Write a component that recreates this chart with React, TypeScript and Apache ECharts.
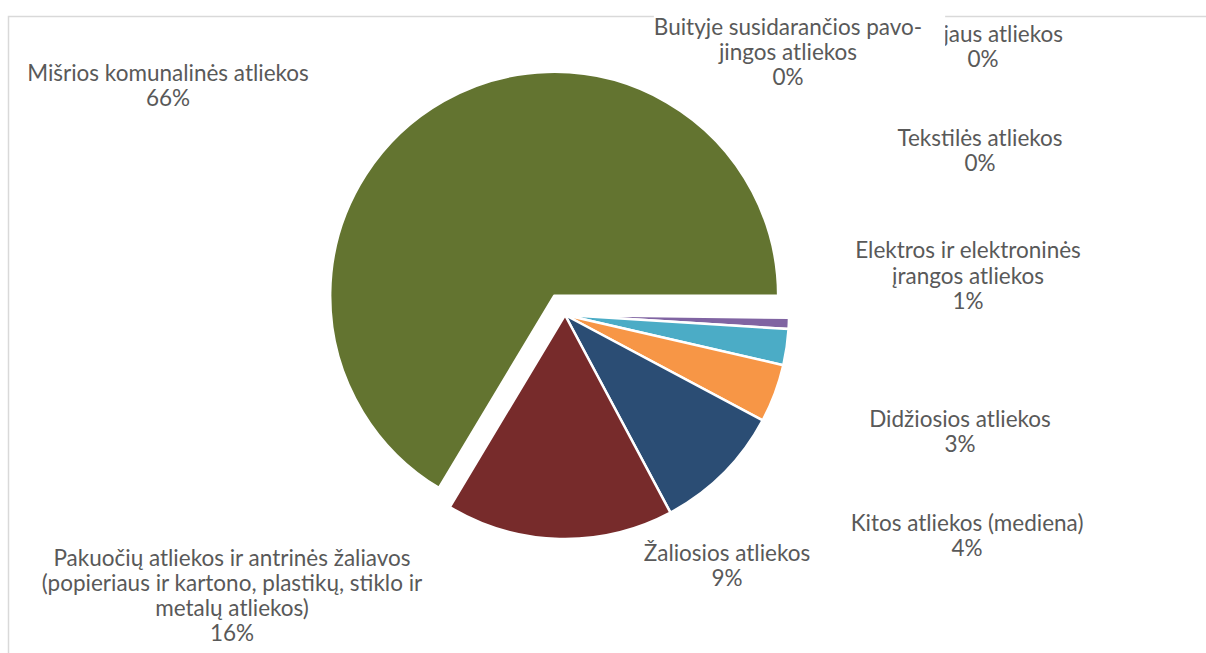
import React, { useEffect, useRef } from "react";
import * as echarts from "echarts";

const categories = [
  "Mišrios komunalinės atliekos",
  "jaus atliekos",
  "Buityje susidarančios pavo-\njingos atliekos",
  "Tekstilės atliekos",
  "Elektros ir elektroninės\nįrangos atliekos",
  "Didžiosios atliekos",
  "Kitos atliekos (mediena)",
  "Žaliosios atliekos",
  "Pakuočių atliekos ir antrinės žaliavos\n(popieriaus ir kartono, plastikų, stiklo ir\nmetalų atliekos)",
];
const shares = [66.4, 0.03, 0.02, 0.15, 0.8, 2.6, 4.2, 9.4, 16.4];
const colors = ["#637430", "#f2c314", "#c0504d", "#9bbb59", "#8064a2", "#4bacc6", "#f79646", "#2b4d74", "#772b2b"];
const explodedIndex = 0;

export default function App() {
  const ref = useRef<HTMLDivElement>(null);
  useEffect(() => {
    if (!ref.current) return;
    const chart = echarts.init(ref.current, null, { renderer: "svg" });
    const labelPos: [number, number][] = [
      [168, 85],
      [983, 46],
      [799.5, 49.5],
      [980, 150],
      [968, 275],
      [960, 431],
      [967, 535],
      [727, 565],
      [232, 595],
    ];
    const total = shares.reduce((a, b) => a + b, 0);
    const startAngle = (360 * shares[0]) / total;
    const cx = 565;
    const cy = 315;
    const radius = 224;
    const explode = 22;
    let before = 0;
    for (let i = 0; i < explodedIndex; i++) before += shares[i];
    const midDeg = startAngle - (360 * (before + shares[explodedIndex] / 2)) / total;
    const midRad = (midDeg * Math.PI) / 180;
    const ex = cx + explode * Math.cos(midRad);
    const ey = cy - explode * Math.sin(midRad);

    const common = {
      type: "pie",
      radius,
      startAngle,
      clockwise: true,
      avoidLabelOverlap: false,
      minAngle: 0,
      silent: true,
      emphasis: { disabled: true },
      labelLine: { show: false },
    };

    chart.setOption({
      animation: false,
      backgroundColor: "#ffffff",
      graphic: [
        {
          type: "rect",
          z: -10,
          silent: true,
          shape: { x: 8.5, y: 16.5, width: 1400, height: 800 },
          style: { fill: "none", stroke: "#d9d9d9", lineWidth: 1.5 },
        },
      ],
      series: [
        {
          ...common,
          center: [cx, cy],
          label: {
            show: true,
            position: "outside",
            color: "#595959",
            fontFamily: "Lato",
            fontSize: 22.5,
            lineHeight: 25.3,
            align: "center",
            formatter: (p: any) =>
              p.dataIndex === 1
                ? `{a|${p.name}}\n{b|${Math.round(p.percent)}%}`
                : `${p.name}\n${Math.round(p.percent)}%`,
            rich: {
              a: { width: 160, align: "right", color: "#595959", fontFamily: "Lato", fontSize: 22.5, lineHeight: 25.3 },
              b: { width: 160, align: "center", color: "#595959", fontFamily: "Lato", fontSize: 22.5, lineHeight: 25.3 },
            },
          },
          labelLayout: (params: any) => {
            const pos = labelPos[params.dataIndex];
            return { x: pos[0], y: pos[1], align: "center", verticalAlign: "middle", hideOverlap: false };
          },
          data: categories.map((name, i) => ({
            name,
            value: shares[i],
            itemStyle:
              i === explodedIndex
                ? { color: "rgba(0,0,0,0)", borderWidth: 0 }
                : { color: colors[i], borderColor: "#ffffff", borderWidth: 2.5 },
            label:
              i === 2
                ? { backgroundColor: "#ffffff", padding: [4, 23, 0, 0] }
                : undefined,
          })),
        },
        {
          ...common,
          center: [ex, ey],
          z: 1,
          label: { show: false },
          data: categories.map((name, i) => ({
            name,
            value: shares[i],
            itemStyle:
              i === explodedIndex
                ? { color: colors[i], borderColor: "#ffffff", borderWidth: 2.5 }
                : { color: "rgba(0,0,0,0)", borderWidth: 0 },
          })),
        },
      ],
    });
    return () => chart.dispose();
  }, []);
  return (
    <div
      ref={ref}
      style={{ position: "fixed", left: 0, top: 0, width: 1206, height: 653, background: "#fff" }}
    />
  );
}
